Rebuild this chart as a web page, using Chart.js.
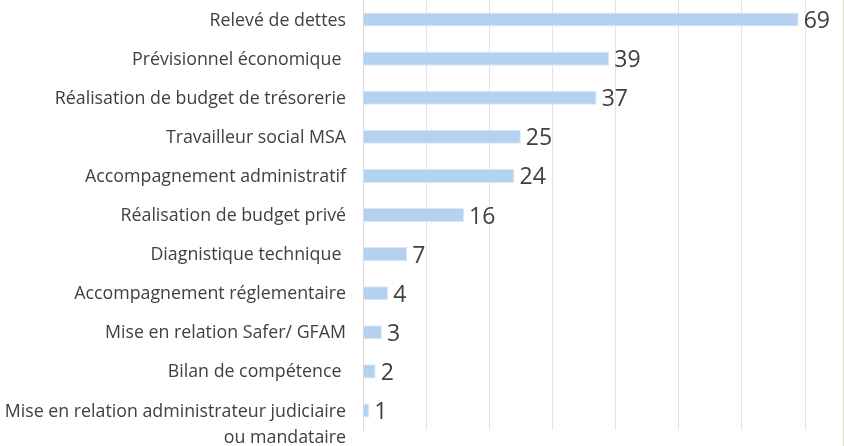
<!DOCTYPE html>
<html>
<head>
<meta charset="utf-8">
<script src="https://cdn.jsdelivr.net/npm/chart.js@4/dist/chart.umd.min.js"></script>
<style>
  html, body { margin: 0; padding: 0; background: #fff; }
  #wrap { width: 843px; height: 446px; position: relative; border-right: 1px solid #d9dcb4; }
</style>
</head>
<body>
<div id="wrap"><canvas id="chart"></canvas></div>
<script>
// categories, top to bottom
const categories = [
    'Relevé de dettes',
    'Prévisionnel économique ',
    'Réalisation de budget de trésorerie',
    'Travailleur social MSA',
    'Accompagnement administratif',
    'Réalisation de budget privé',
    'Diagnistique technique ',
    'Accompagnement réglementaire',
    'Mise en relation Safer/ GFAM',
    'Bilan de compétence ',
    ['Mise en relation administrateur judiciaire', 'ou mandataire']
];
const counts = [69, 39, 37, 25, 24, 16, 7, 4, 3, 2, 1];
const xMax = 70;
const xStep = 10;

const textColor = '#404040';
const fontFamily = "'Open Sans', 'DejaVu Sans', sans-serif";

// draws category labels (first line centred on bar) and value labels
const labelsPlugin = {
    id: 'labels',
    afterDatasetsDraw(chart) {
        const ctx = chart.ctx;
        const yScale = chart.scales.y;
        const meta = chart.getDatasetMeta(0);
        ctx.save();
        ctx.fillStyle = textColor;
        ctx.textBaseline = 'middle';

        ctx.font = '17.8px ' + fontFamily;
        ctx.textAlign = 'right';
        categories.forEach((lab, i) => {
            const y = yScale.getPixelForValue(i);
            const lines = Array.isArray(lab) ? lab : [lab];
            lines.forEach((ln, k) => ctx.fillText(ln, 346, y + 1 + k * 26));
        });

        ctx.font = '23px ' + fontFamily;
        ctx.textAlign = 'left';
        meta.data.forEach((bar, i) => {
            ctx.fillText(String(counts[i]), bar.x + 5, bar.y + 2);
        });
        ctx.restore();
    }
};

new Chart(document.getElementById('chart'), {
    type: 'bar',
    data: {
        labels: categories,
        datasets: [{
            data: counts,
            backgroundColor: '#b4d1f0',
            borderColor: '#dbe8f7',
            borderWidth: 1,
            barPercentage: 0.36,
            categoryPercentage: 1
        }]
    },
    options: {
        indexAxis: 'y',
        responsive: true,
        maintainAspectRatio: false,
        animation: false,
        layout: { padding: { left: 363, right: 38, top: 0, bottom: 16 } },
        plugins: {
            legend: { display: false },
            tooltip: { enabled: false }
        },
        scales: {
            x: {
                min: 0,
                max: xMax,
                ticks: { display: false, stepSize: xStep },
                grid: { color: '#e3e3e3', lineWidth: 1, drawTicks: false },
                border: { display: false }
            },
            y: {
                ticks: { display: false },
                grid: { display: false, drawTicks: false },
                border: { display: true, color: '#d9d9d9' }
            }
        }
    },
    plugins: [labelsPlugin]
});
</script>
</body>
</html>
